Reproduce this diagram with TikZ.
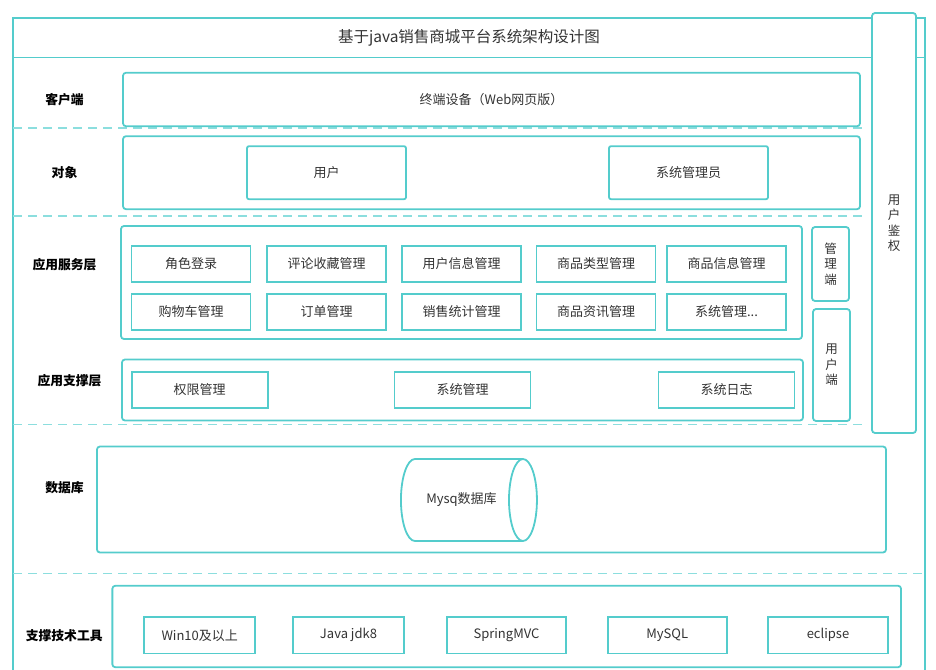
\documentclass[tikz,border=0pt]{standalone}
\usepackage{fontspec}
\setmainfont{Noto Sans CJK SC}
\usepackage{xcolor}
\usetikzlibrary{shapes.geometric}

\definecolor{frameteal}{RGB}{84,204,204}
\definecolor{dashteal}{RGB}{140,222,222}
\definecolor{txtgray}{RGB}{51,51,51}

\begin{document}
\begin{tikzpicture}[x=1pt,y=-1pt,
  every node/.style={text=txtgray, font=\fontsize{13}{16}\selectfont, inner sep=0pt},
  frame/.style={draw=frameteal, line width=1.8pt},
  panel/.style={frame, rounded corners=3pt},
  item/.style={frame, minimum height=36.5pt},
  sep/.style={draw=dashteal, line width=1.5pt, dash pattern=on 9pt off 6pt},
  vtext/.style={panel, align=center, font=\fontsize{12.5}{15.5}\selectfont},
  rowlabel/.style={font=\fontsize{12.8}{16}\selectfont\bfseries, text=black}]

\useasboundingbox (0,0) rectangle (936,669);

% Outer frame, open at the bottom
\draw[frame] (13,675) -- (13,18) -- (925,18) -- (925,675);

% Title band
\node[frame, minimum width=912pt, minimum height=39.5pt,
      font=\fontsize{15.5}{17}\selectfont] (title) at (469,37.8)
      {基于java销售商城平台系统架构设计图};

% User authentication column (covers the title band)
\node[vtext, fill=white, minimum width=44pt, minimum height=420pt] (auth) at (894,223) {用\\户\\鉴\\权};

% Dashed separators between the layers
\draw[sep] (13,128) -- (865,128);
\draw[sep] (13,216) -- (865,216);
\draw[sep] (13,424.5) -- (865,424.5);
\draw[sep] (13,573.5) -- (925,573.5);

% Client
\node[rowlabel] (lblclient) at (64.5,100) {客户端};
\node[panel, minimum width=737pt, minimum height=53.5pt] (client) at (491.5,99.5) {终端设备（Web网页版）};

% Objects
\node[rowlabel] (lblobject) at (64.5,172.5) {对象};
\node[panel, minimum width=737pt, minimum height=73pt] (objects) at (491.5,172.7) {};
\node[panel, rounded corners=2pt, minimum width=159pt, minimum height=53pt] (user) at (326.5,172.7) {用户};
\node[panel, rounded corners=2pt, minimum width=159pt, minimum height=53pt] (admin) at (688.5,172.7) {系统管理员};

% Application service layer
\node[rowlabel] (lblservice) at (64.5,265) {应用服务层};
\node[panel, minimum width=681pt, minimum height=113pt] (service) at (461.5,282.5) {};
\node[item, minimum width=119pt] (login) at (191,264) {角色登录};
\node[item, minimum width=119pt] (comment) at (326.5,264) {评论收藏管理};
\node[item, minimum width=119pt] (userinfo) at (461.5,264) {用户信息管理};
\node[item, minimum width=119pt] (goodstype) at (596,264) {商品类型管理};
\node[item, minimum width=119pt] (goodsinfo) at (726.5,264) {商品信息管理};
\node[item, minimum width=119pt] (cart) at (191,312) {购物车管理};
\node[item, minimum width=119pt] (order) at (326.5,312) {订单管理};
\node[item, minimum width=119pt] (sales) at (461.5,312) {销售统计管理};
\node[item, minimum width=119pt] (news) at (596,312) {商品资讯管理};
\node[item, minimum width=119pt] (sysmore) at (726.5,312) {系统管理...};

% Admin side / user side
\node[vtext, minimum width=37pt, minimum height=74pt] (adminside) at (830.5,264) {管\\理\\端};
\node[vtext, minimum width=37pt, minimum height=112pt] (userside) at (831.5,365) {用\\户\\端};

% Application support layer
\node[rowlabel] (lblsupport) at (69.5,381) {应用支撑层};
\node[panel, minimum width=681pt, minimum height=61pt] (support) at (462.5,390) {};
\node[item, minimum width=136pt] (rights) at (199.7,390) {权限管理};
\node[item, minimum width=136pt] (sysmgr) at (462.5,390) {系统管理};
\node[item, minimum width=136pt] (syslog) at (726.5,390) {系统日志};

% Database
\node[rowlabel] (lbldb) at (64.5,488) {数据库};
\node[panel, minimum width=789pt, minimum height=106pt] (database) at (491.5,499.5) {};
\node[cylinder, frame, minimum width=82pt, minimum height=136pt, aspect=2.0] (mysqldb) at (461.5,500) {Mysq数据库};

% Supporting tools
\node[rowlabel] (lbltools) at (64.2,636) {支撑技术工具};
\node[panel, minimum width=788.7pt, minimum height=81.5pt] (tools) at (506.7,626.5) {};
\node[item, minimum width=111pt] (win) at (199.7,635.2) {Win10及以上};
\node[item, minimum width=111pt] (jdk) at (348.5,635.2) {Java jdk8};
\node[item, minimum width=119pt] (spring) at (506.5,635.2) {SpringMVC};
\node[item, minimum width=119pt] (mysql) at (667.3,635.2) {MySQL};
\node[item, minimum width=120pt] (eclipse) at (828,635.2) {eclipse};

\end{tikzpicture}
\end{document}
